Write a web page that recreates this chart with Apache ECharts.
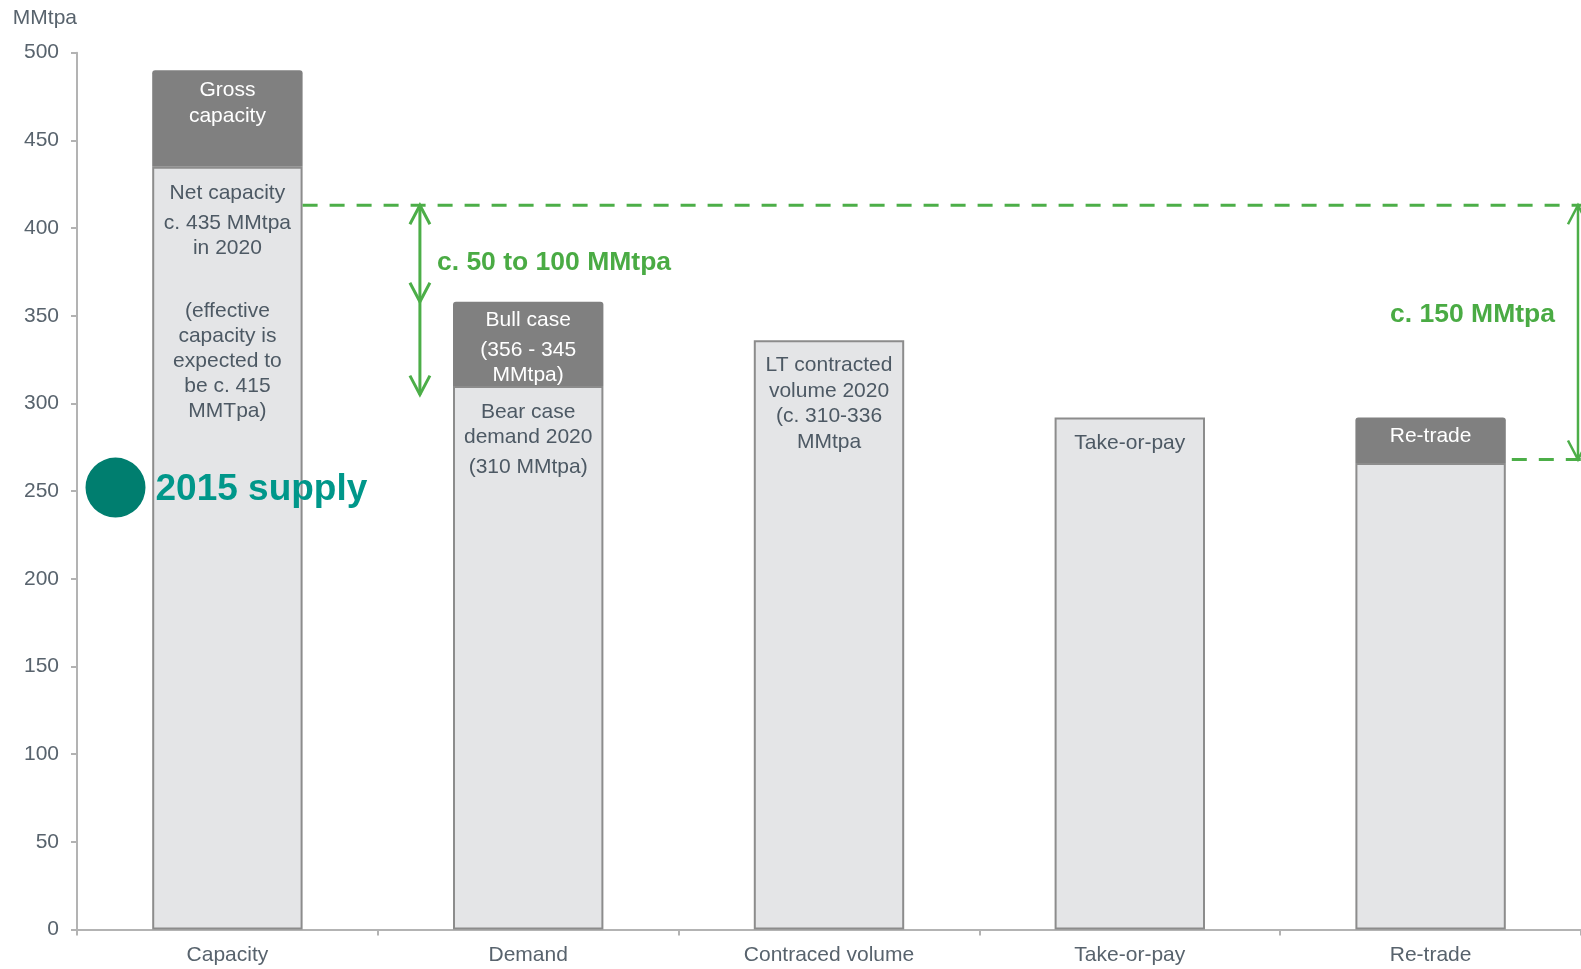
<!DOCTYPE html>
<html>
<head>
<meta charset="utf-8">
<script src="https://cdn.jsdelivr.net/npm/echarts@6/dist/echarts.min.js"></script>
<style>
  html, body { margin: 0; padding: 0; background: #ffffff; }
  #chart { width: 1581px; height: 969px; }
</style>
</head>
<body>
<div id="chart"></div>
<script>
// ---- data (MMtpa) ----
const categories = ['Capacity', 'Demand', 'Contraced volume', 'Take-or-pay', 'Re-trade'];
const baseValues = [435, 310, 336, 292, 266];   // light lower segment
const topValues = [55, 48, 0, 0, 26];           // dark segment stacked on top
const yMin = 0;
const yMax = 500;
const yStep = 50;

const baseLabels = [
  ['Net capacity', 'c. 435 MMtpa', 'in 2020', '(effective', 'capacity is', 'expected to', 'be c. 415', 'MMTpa)'],
  ['Bear case', 'demand 2020', '(310 MMtpa)'],
  ['LT contracted', 'volume 2020', '(c. 310-336', 'MMtpa'],
  ['Take-or-pay'],
  []
];
const topLabels = [
  ['Gross', 'capacity'],
  ['Bull case', '(356 - 345', 'MMtpa)'],
  [],
  [],
  ['Re-trade']
];

// reference levels and gap arrows
const effectiveCapacity = 413;
const retradeFloor = 268;
const demandGapStops = [413, 358, 305];
const retradeGapStops = [413, 268];
const gapLabels = ['c. 50 to 100 MMtpa', 'c. 150 MMtpa'];
const gapLabelLevels = [380, 350.5];
const supply2015 = 252;
const supplyLabel = '2015 supply';

// ---- styling ----
const FONT = '"Liberation Sans", Arial, Helvetica, sans-serif';
const GREEN = '#4cae48';
const GREEN_TEXT = '#4aab44';
const TEAL_DOT = '#007e6f';
const TEAL_TEXT = '#00978a';
const INK = '#4d5964';
const AXIS_INK = '#58636d';
const AXIS_LINE = '#b3b3b3';
const LIGHT = '#e4e5e7';
const DARK = '#808080';
const EDGE = '#8c8c8c';

// per-bar text layout: distance from segment top, line height, extra gaps before given lines
const baseLayout = [
  { distance: 14, lineHeight: 25, gaps: { 1: 5.2, 3: 37.5 } },
  { distance: 13.5, lineHeight: 25, gaps: { 2: 5 } },
  { distance: 12.3, lineHeight: 25.5, gaps: {} },
  { distance: 13, lineHeight: 25, gaps: {} },
  { distance: 10, lineHeight: 25, gaps: {} }
];
const topLayout = [
  { distance: 7, lineHeight: 26, gaps: {} },
  { distance: 5.5, lineHeight: 25, gaps: { 1: 5.3 } },
  { distance: 5, lineHeight: 25, gaps: {} },
  { distance: 5, lineHeight: 25, gaps: {} },
  { distance: 6.6, lineHeight: 25, gaps: {} }
];

function richLabel(lines, layout, color) {
  if (!lines.length) return { show: false };
  const rich = { t: { fontFamily: FONT, fontSize: 21, lineHeight: layout.lineHeight, color: color } };
  const parts = [];
  lines.forEach(function (line, i) {
    const g = layout.gaps[i];
    if (g) {
      const key = 's' + i;
      rich[key] = { fontSize: 1, lineHeight: g };
      parts.push('{' + key + '| }');
    }
    parts.push('{t|' + line + '}');
  });
  return {
    show: true,
    position: 'insideTop',
    distance: layout.distance,
    formatter: parts.join('\n'),
    rich: rich
  };
}

const baseData = baseValues.map(function (v, i) {
  return { value: v, label: richLabel(baseLabels[i], baseLayout[i], INK) };
});
const topData = topValues.map(function (v, i) {
  return { value: v, label: richLabel(topLabels[i], topLayout[i], '#ffffff') };
});

// arrow with open chevron heads: up at the first stop, down at every other stop
function arrowItem(api, catIndex, offset, stops, lineWidth) {
  const band = api.size([1, 0])[0];
  const x = api.coord([catIndex, stops[0]])[0] + offset * band;
  const ys = stops.map(function (s) { return api.coord([catIndex, s])[1]; });
  const hw = 10, hh = 19;
  const stroke = { stroke: GREEN, lineWidth: lineWidth, fill: null, lineCap: 'butt', lineJoin: 'miter' };
  const children = [
    { type: 'line', shape: { x1: x, y1: ys[0], x2: x, y2: ys[ys.length - 1] }, style: Object.assign({}, stroke) },
    { type: 'polyline', shape: { points: [[x - hw, ys[0] + hh], [x, ys[0]], [x + hw, ys[0] + hh]] }, style: Object.assign({}, stroke) }
  ];
  for (let k = 1; k < ys.length; k++) {
    children.push({ type: 'polyline', shape: { points: [[x - hw, ys[k] - hh], [x, ys[k]], [x + hw, ys[k] - hh]] }, style: Object.assign({}, stroke) });
  }
  return { x: x, children: children };
}

const option = {
  animation: false,
  backgroundColor: '#ffffff',
  grid: { left: 77, right: 0, top: 52.7, bottom: 39.5, containLabel: false },
  xAxis: {
    type: 'category',
    data: categories,
    axisLine: { show: true, lineStyle: { color: AXIS_LINE, width: 2 } },
    axisTick: { show: true, alignWithLabel: false, length: 6, lineStyle: { color: AXIS_LINE, width: 2 } },
    axisLabel: { interval: 0, margin: 15, fontFamily: FONT, fontSize: 21, color: AXIS_INK },
    splitLine: { show: false }
  },
  yAxis: {
    type: 'value',
    min: yMin,
    max: yMax,
    interval: yStep,
    name: 'MMtpa',
    nameLocation: 'end',
    nameGap: 34.5,
    nameTextStyle: { fontFamily: FONT, fontSize: 21, color: AXIS_INK, align: 'right', verticalAlign: 'middle' },
    axisLine: { show: true, lineStyle: { color: AXIS_LINE, width: 2 } },
    axisTick: { show: true, length: 6, lineStyle: { color: AXIS_LINE, width: 2 } },
    axisLabel: { margin: 18, fontFamily: FONT, fontSize: 21, color: AXIS_INK, padding: [8, 0, 0, 0] },
    splitLine: { show: false }
  },
  series: [
    {
      name: 'Base',
      type: 'bar',
      stack: 'total',
      barWidth: '50%',
      data: baseData,
      itemStyle: { color: LIGHT, borderColor: EDGE, borderWidth: 2 },
      z: 2
    },
    {
      name: 'Top',
      type: 'bar',
      stack: 'total',
      barWidth: '50%',
      data: topData,
      itemStyle: { color: DARK, borderWidth: 0, borderRadius: [3, 3, 0, 0] },
      z: 3
    },
    {
      name: 'Reference levels',
      type: 'custom',
      z: 4,
      data: [[0, effectiveCapacity], [4, retradeFloor]],
      renderItem: function (params, api) {
        const p = api.coord([api.value(0), api.value(1)]);
        const band = api.size([1, 0])[0];
        const cs = params.coordSys;
        const x1 = p[0] + band * 0.25 + (params.dataIndex === 1 ? 6 : 0);
        return {
          type: 'line',
          shape: { x1: x1, y1: p[1], x2: cs.x + cs.width, y2: p[1] },
          style: { stroke: GREEN, lineWidth: 3, lineDash: [15, 12] }
        };
      }
    },
    {
      name: 'Demand gap',
      type: 'custom',
      z: 5,
      data: [[1, demandGapStops[0]]],
      renderItem: function (params, api) {
        const a = arrowItem(api, 1, -0.36, demandGapStops, 3);
        const ty = api.coord([1, gapLabelLevels[0]])[1];
        a.children.push({
          type: 'text', x: a.x + 17, y: ty,
          style: { text: gapLabels[0], fontFamily: FONT, fontSize: 26.5, fontWeight: 'bold', fill: GREEN_TEXT, align: 'left', verticalAlign: 'middle' }
        });
        return { type: 'group', children: a.children };
      }
    },
    {
      name: 'Re-trade gap',
      type: 'custom',
      z: 5,
      data: [[4, retradeGapStops[0]]],
      renderItem: function (params, api) {
        const a = arrowItem(api, 4, 0.49, retradeGapStops, 2.5);
        const ty = api.coord([4, gapLabelLevels[1]])[1];
        a.children.push({
          type: 'text', x: a.x - 23, y: ty,
          style: { text: gapLabels[1], fontFamily: FONT, fontSize: 26.5, fontWeight: 'bold', fill: GREEN_TEXT, align: 'right', verticalAlign: 'middle' }
        });
        return { type: 'group', children: a.children };
      }
    },
    {
      name: '2015 supply',
      type: 'custom',
      z: 6,
      data: [[0, supply2015]],
      renderItem: function (params, api) {
        const p = api.coord([api.value(0), api.value(1)]);
        const band = api.size([1, 0])[0];
        const cx = p[0] - band * 0.372;
        return {
          type: 'group',
          children: [
            { type: 'circle', shape: { cx: cx, cy: p[1], r: 30 }, style: { fill: TEAL_DOT } },
            {
              type: 'text', x: cx + 40, y: p[1] + 2,
              style: { text: supplyLabel, fontFamily: FONT, fontSize: 37, fontWeight: 'bold', fill: TEAL_TEXT, align: 'left', verticalAlign: 'middle' }
            }
          ]
        };
      }
    }
  ]
};

const chart = echarts.init(document.getElementById('chart'), null, { renderer: 'canvas' });
chart.setOption(option);
</script>
</body>
</html>
